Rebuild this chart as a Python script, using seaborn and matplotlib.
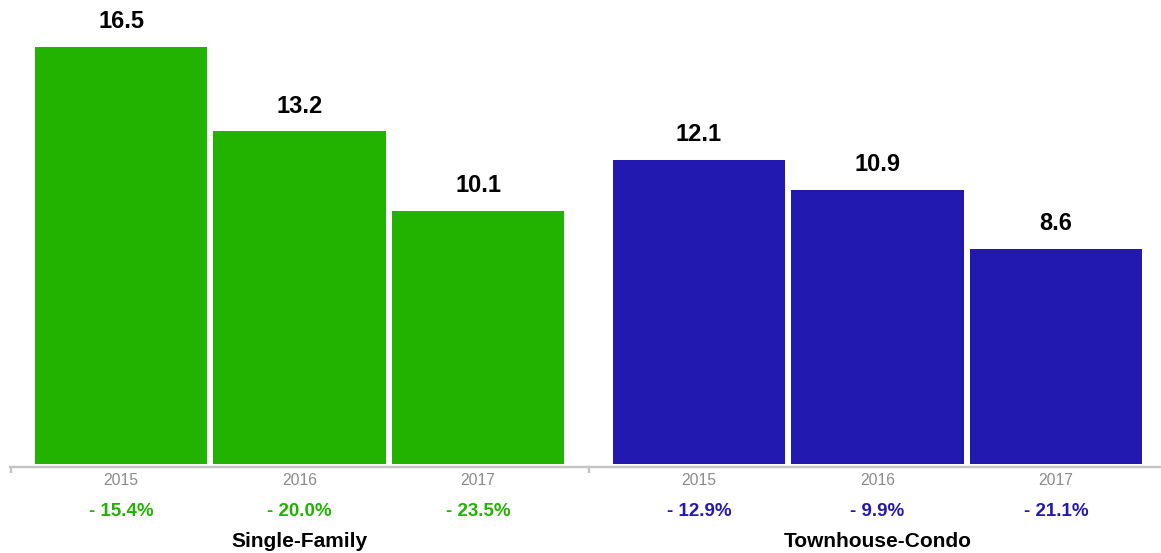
import matplotlib
matplotlib.use("Agg")
import matplotlib.pyplot as plt
import seaborn as sns
import pandas as pd

# Data
groups = ["Single-Family", "Townhouse-Condo"]
years = ["2015", "2016", "2017"]
single_family = [16.5, 13.2, 10.1]
townhouse_condo = [12.1, 10.9, 8.6]
sf_change = ["- 15.4%", "- 20.0%", "- 23.5%"]
tc_change = ["- 12.9%", "- 9.9%", "- 21.1%"]

values = [single_family, townhouse_condo]
changes = [sf_change, tc_change]
colors = ["#22b200", "#2219b0"]

sns.set_theme(style="white")
plt.rcParams["font.family"] = ["Liberation Sans", "DejaVu Sans"]

W, H = 1161, 553
fig = plt.figure(figsize=(W / 100, H / 100), dpi=100)

axis_gray = "#c4c4c4"
ax_bottom = (H - 463.5) / H
ax_width = 578 / W
lefts = [10 / W, 588 / W]
x_lo, x_hi = -0.622, 2.616

for i, grp in enumerate(groups):
    ax = fig.add_axes([lefts[i], ax_bottom, ax_width, 1 - ax_bottom])
    df = pd.DataFrame({"year": years, "value": values[i]})
    sns.barplot(data=df, x="year", y="value", color=colors[i], saturation=1,
                width=0.964, errorbar=None, edgecolor=colors[i], linewidth=0,
                ax=ax)
    ax.set_xlim(x_lo, x_hi)
    ax.set_ylim(0.215, 18.34)
    ax.set_xlabel("")
    ax.set_ylabel("")
    ax.set_yticks([])
    for side in ["top", "right", "left"]:
        ax.spines[side].set_visible(False)
    ax.spines["bottom"].set_visible(True)
    ax.spines["bottom"].set_color(axis_gray)
    ax.spines["bottom"].set_linewidth(1.7)
    ax.spines["bottom"].set_position(("outward", 2.6))
    ax.spines["bottom"].set_clip_on(False)

    # year labels under each bar
    ax.tick_params(axis="x", which="major", length=0, pad=4,
                   labelsize=11.3, labelcolor="#8a8a8a")
    # group boundary tick
    ax.set_xticks([x_lo + 0.004], minor=True)
    ax.tick_params(axis="x", which="minor", bottom=True, length=4, width=1.7,
                   color=axis_gray, direction="out")

    # value labels above bars
    ax.bar_label(ax.containers[0], fmt="%.1f", padding=10, fontsize=17,
                 fontweight="bold", color="#000000")

    trans = ax.get_xaxis_transform()
    for j, txt in enumerate(changes[i]):
        ax.text(j, -0.1143, txt, transform=trans, ha="center", va="baseline",
                fontsize=13.5, fontweight="bold", color=colors[i], clip_on=False)
    ax.text(1, -0.180, grp, transform=trans, ha="center", va="baseline",
            fontsize=15, fontweight="bold", color="#000000", clip_on=False)

fig.savefig("out.png", dpi=100)
